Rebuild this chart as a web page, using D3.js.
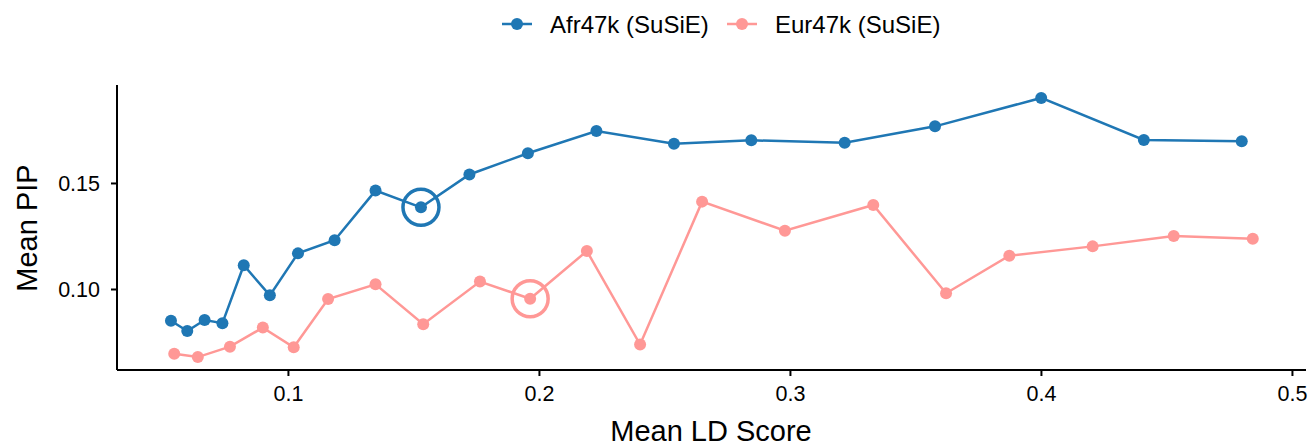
<!DOCTYPE html>
<html><head><meta charset="utf-8">
<script src="https://cdn.jsdelivr.net/npm/d3@7"></script>
<style>body{margin:0;background:#fff}svg{display:block}text{font-family:"Liberation Sans",Arial,Helvetica,sans-serif}</style>
</head><body>
<script>
const seriesNames = ["Afr47k (SuSiE)", "Eur47k (SuSiE)"];
const seriesColors = ["#1f77b4", "#ff9896"];
const afrX = [0.0534,0.0599,0.0668,0.0739,0.0824,0.0928,0.1040,0.1186,0.1349,0.1530,0.1723,0.1956,0.2229,0.2538,0.2846,0.3218,0.3578,0.4001,0.4410,0.4800];
const afrY = [0.0850,0.0802,0.0854,0.0839,0.1112,0.0970,0.1168,0.1230,0.1464,0.1385,0.1540,0.1640,0.1745,0.1685,0.1701,0.1690,0.1767,0.1901,0.1703,0.1697];
const eurX = [0.0547,0.0641,0.0769,0.0900,0.1023,0.1160,0.1349,0.1539,0.1765,0.1965,0.2191,0.2403,0.2650,0.2980,0.3332,0.3622,0.3874,0.4206,0.4529,0.4844];
const eurY = [0.0695,0.0679,0.0728,0.0818,0.0725,0.0953,0.1022,0.0834,0.1035,0.0954,0.1179,0.0738,0.1412,0.1275,0.1396,0.0980,0.1157,0.1201,0.1250,0.1237];
const highlightIndex = [9, 9];
const xTicks = [0.1,0.2,0.3,0.4,0.5];
const yTicks = [0.10,0.15];

const W=1312,H=446;
const svg=d3.select("body").append("svg").attr("width",W).attr("height",H);
const x=d3.scaleLinear().domain([0.0319,0.5056]).range([117,1306]);
const y=d3.scaleLinear().domain([0.0618,0.1962]).range([370,85]);

const series=[
  {name:seriesNames[0],color:seriesColors[0],pts:afrX.map((v,i)=>[v,afrY[i]]),hl:highlightIndex[0]},
  {name:seriesNames[1],color:seriesColors[1],pts:eurX.map((v,i)=>[v,eurY[i]]),hl:highlightIndex[1]}
];

// axes
const xa=svg.append("g").attr("transform","translate(0,370)")
  .call(d3.axisBottom(x).tickValues(xTicks).tickFormat(d3.format("~g")).tickSize(6).tickPadding(5));
const ya=svg.append("g").attr("transform","translate(117,0)")
  .call(d3.axisLeft(y).tickValues(yTicks).tickFormat(d3.format(".2f")).tickSize(6).tickPadding(11));
[xa,ya].forEach(a=>{
  a.select(".domain").attr("stroke","#000").attr("stroke-width",2);
  a.selectAll(".tick line").attr("stroke","#000").attr("stroke-width",2);
  a.selectAll(".tick text").attr("fill","#000").style("font-size","21.5px");
});
xa.select(".domain").attr("d","M117,0H1306");
ya.select(".domain").attr("d","M0,85V370");
xa.selectAll(".tick text").attr("y",31).attr("dy",0);
ya.selectAll(".tick text").attr("dy","0.36em");

svg.append("text").attr("x",711).attr("y",441).attr("text-anchor","middle")
  .style("font-size","29px").text("Mean LD Score");
svg.append("text").attr("transform","translate(37,228) rotate(-90)").attr("text-anchor","middle")
  .style("font-size","29px").text("Mean PIP");

const line=d3.line().x(d=>x(d[0])).y(d=>y(d[1]));
series.forEach(s=>{
  const g=svg.append("g");
  g.append("path").attr("d",line(s.pts)).attr("fill","none").attr("stroke",s.color).attr("stroke-width",2.5);
  g.selectAll("circle.pt").data(s.pts).join("circle").attr("class","pt")
    .attr("cx",d=>x(d[0])).attr("cy",d=>y(d[1])).attr("r",6).attr("fill",s.color);
  const h=s.pts[s.hl];
  g.append("circle").attr("cx",x(h[0])).attr("cy",y(h[1])).attr("r",18)
    .attr("fill","none").attr("stroke",s.color).attr("stroke-width",3.5);
});

// legend
const legX=[502,727];
series.forEach((s,i)=>{
  const g=svg.append("g").attr("transform",`translate(${legX[i]},24)`);
  g.append("line").attr("x1",0).attr("x2",30).attr("stroke",s.color).attr("stroke-width",2.5);
  g.append("circle").attr("cx",15).attr("r",6).attr("fill",s.color);
  g.append("text").attr("x",48).attr("y",0).attr("dy","0.36em").style("font-size","24px").text(s.name);
});
</script>
</body></html>
